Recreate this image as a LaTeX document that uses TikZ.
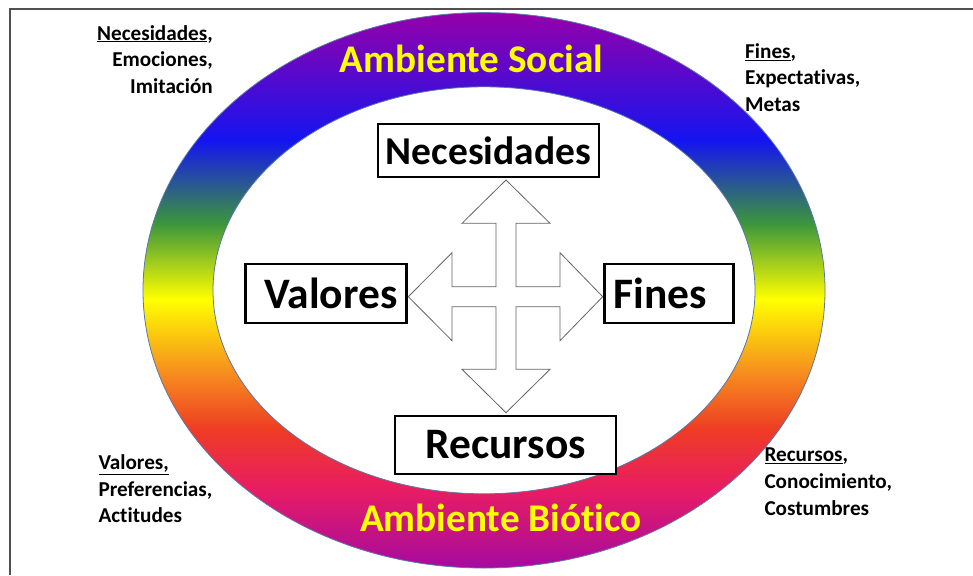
\documentclass[tikz,border=0pt]{standalone}
\usepackage{fontspec}
\setmainfont{Carlito}[Ligatures=NoCommon]
\definecolor{cBot}{RGB}{165,10,160}
\definecolor{cPink}{RGB}{232,28,100}
\definecolor{cRed}{RGB}{238,60,36}
\definecolor{cOrange}{RGB}{247,148,29}
\definecolor{cYellow}{RGB}{255,255,0}
\definecolor{cGreen}{RGB}{60,150,60}
\definecolor{cBlue}{RGB}{20,20,240}
\definecolor{cTop}{RGB}{150,0,170}
\definecolor{ringedge}{RGB}{90,120,170}
\definecolor{framegray}{RGB}{80,80,80}
\definecolor{arrowgray}{RGB}{100,100,100}
\pgfdeclareverticalshading{rainbowring}{100bp}{color(0bp)=(cBot); color(25bp)=(cBot); color(32bp)=(cPink); color(37.5bp)=(cRed); color(43bp)=(cOrange); color(49.2bp)=(cYellow); color(56bp)=(cGreen); color(63.5bp)=(cBlue); color(75bp)=(cTop); color(100bp)=(cTop)}
\begin{document}
\begin{tikzpicture}[x=1pt,y=-1pt,
  box/.style={draw=black, line width=2.2pt, fill=white, inner sep=0pt,
    font=\bfseries\fontsize{43.5}{48}\selectfont},
  ringtext/.style={text=cYellow, inner sep=0pt, font=\bfseries\fontsize{39.2}{44}\selectfont},
  cornertext/.style={inner sep=0pt, font=\bfseries\fontsize{21.2}{26.6}\selectfont},
  framestyle/.style={draw=framegray, line width=1.3pt},
  arrowshape/.style={draw=arrowgray, line width=0.8pt, fill=white, line join=miter}]
\useasboundingbox (0,0) rectangle (973,575);
\fill[white] (0,0) rectangle (973,575);
\coordinate (fbl) at (10,575);
\coordinate (ftl) at (10,9);
\coordinate (ftr) at (973,9);
\draw[framestyle] (fbl) -- (ftl) -- (ftr);
% ring
\coordinate (rc) at (484,290.3);
\path[shade, shading=rainbowring, even odd rule]
  (rc) ellipse [x radius=341pt, y radius=277.7pt]
  (rc) ellipse [x radius=271pt, y radius=203.5pt];
\draw[ringedge, line width=0.8pt] (rc) ellipse [x radius=341pt, y radius=277.7pt];
\draw[ringedge, line width=0.8pt] (rc) ellipse [x radius=271pt, y radius=203.5pt];
\node[ringtext, anchor=base] (social) at (471.5,73) {Ambiente Social};
\node[ringtext, anchor=base] (biotic) at (501,531) {Ambiente Biótico};
% boxes
\node[box, minimum width=221pt, minimum height=53pt, font=\bfseries\fontsize{39.5}{44}\selectfont] (nec) at (488.5,150.8) {Necesidades};
\node[box, minimum width=161pt, minimum height=59.5pt] (val) at (326,293.5) {\hspace*{10pt}Valores};
\node[box, minimum width=129pt, minimum height=59.5pt] (fin) at (669,293.5) {Fines\hspace*{18pt}};
\node[box, minimum width=221pt, minimum height=58pt] (rec) at (505.7,445) {Recursos};
% four-way arrow
\coordinate (ac) at (506,296.7);
\begin{scope}[shift={(ac)}]
\path[arrowshape] (0,-116.7) -- (44,-73.4) -- (10,-73.4) -- (10,-10) -- (54,-10) -- (54,-44) -- (96.7,0)
  -- (54,44) -- (54,10) -- (10,10) -- (10,72.6) -- (44,72.6) -- (0,116) -- (-44,72.6) -- (-10,72.6)
  -- (-10,10) -- (-54,10) -- (-54,44) -- (-97.7,0) -- (-54,-44) -- (-54,-10) -- (-10,-10)
  -- (-10,-73.4) -- (-44,-73.4) -- cycle;
\end{scope}
% corner texts
\node[cornertext, anchor=north east, align=right] (tl) at (213,25) {\underline{Necesidades},\\Emociones,\\Imitación};
\node[cornertext, anchor=north west, align=left] (tr) at (745,43.3) {\underline{Fines},\\Expectativas,\\Metas};
\node[cornertext, anchor=north west, align=left] (bl) at (98.3,454.5) {\underline{Valores,}\\Preferencias,\\Actitudes};
\node[cornertext, anchor=north west, align=left] (br) at (764.3,448) {\underline{Recursos},\\Conocimiento,\\Costumbres};
\end{tikzpicture}
\end{document}
